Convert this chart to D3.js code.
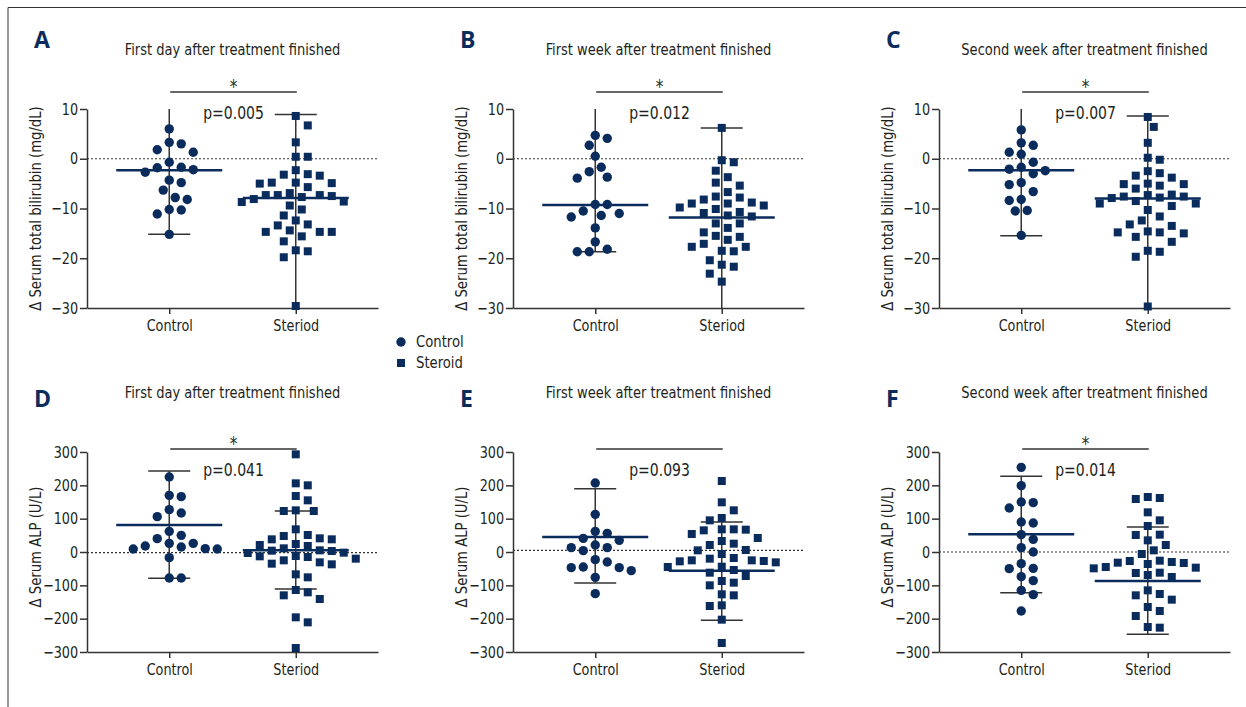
<!DOCTYPE html>
<html>
<head>
<meta charset="utf-8">
<script src="https://cdn.jsdelivr.net/npm/d3@7"></script>
<style>
body { margin: 0; background: #fff; }
svg text { font-family: "DejaVu Sans", sans-serif; font-stretch: condensed; fill: #231f20; }
</style>
</head>
<body>
<svg id="chart" width="1246" height="707"></svg>
<script>
var groups = ['Control', 'Steroid'];
var groupLabels = ['Control', 'Steriod']; // spelled as printed under the axis
var legendLabels = ['Control', 'Steroid'];
var titles = ['First day after treatment finished', 'First week after treatment finished', 'Second week after treatment finished'];
var letters = ['A', 'B', 'C', 'D', 'E', 'F'];
var pValues = ['p=0.005', 'p=0.012', 'p=0.007', 'p=0.041', 'p=0.093', 'p=0.014'];
var stars = ['*', '*', '*', '*', '', '*'];
var biliTicks = [10, 0, -10, -20, -30];
var alpTicks = [300, 200, 100, 0, -100, -200, -300];
var refLines = [0, 0, 0, -2, 5, 0];

// total bilirubin (mg/dL)
var biliDay1Control = [6.0, 3.3, 3.0, 1.8, 1.3, -0.7, -1.7, -2.2, -1.8, -2.7, -4.3, -4.8, -6.3, -7.8, -8.2, -10.3, -10.2, -11.1, -15.2];
var biliDay1Steroid = [8.6, 6.7, 3.3, 0.4, 0.4, -2.3, -3.1, -3.4, -3.2, -4.8, -4.9, -5.0, -4.8, -5.7, -7.3, -7.5, -6.9, -7.7, -7.3, -7.3, -8.1, -8.6, -8.7, -9.4, -10.2, -11.4, -12.4, -13.2, -13.4, -14.4, -14.7, -14.7, -14.7, -15.6, -16.6, -18.4, -18.6, -19.8, -29.6];
var biliDay1Center = [-2.3, -7.9];
var biliDay1Low = [-15.2, -31];
var biliDay1High = [11, 8.9];

var biliWeek1Control = [4.7, 4.1, 2.7, 0.5, -1.7, -2.6, -3.9, -3.7, -9.2, -9.2, -11.0, -10.5, -11.7, -11.4, -13.9, -16.7, -18.2, -18.7, -18.7];
var biliWeek1Steroid = [6.2, -0.3, -0.7, -2.4, -3.7, -4.8, -5.4, -6.7, -7.8, -7.6, -8.2, -9.0, -9.0, -8.8, -9.4, -9.8, -10.1, -10.7, -10.9, -11.6, -11.4, -13.0, -13.0, -13.9, -14.8, -15.5, -15.7, -16.3, -17.1, -17.7, -17.7, -18.6, -18.5, -20.4, -21.3, -21.7, -23.1, -24.7];
var biliWeek1Center = [-9.3, -11.8];
var biliWeek1Low = [-18.7, -31];
var biliWeek1High = [11, 6.2];

var biliWeek2Control = [5.8, 3.2, 2.7, 1.3, 0.9, -0.7, -1.7, -2.4, -2.1, -3.0, -4.8, -5.2, -6.6, -8.2, -8.4, -10.5, -10.4, -15.4];
var biliWeek2Steroid = [8.4, 6.4, 3.2, 0.2, -0.2, -2.5, -2.9, -3.8, -3.4, -5.1, -5.4, -5.1, -5.0, -6.0, -7.3, -7.8, -7.2, -7.9, -7.6, -7.6, -8.5, -9.0, -9.0, -9.5, -10.3, -11.6, -12.4, -13.2, -13.5, -14.8, -14.8, -15.0, -14.6, -15.7, -16.7, -18.5, -18.7, -19.7, -29.7];
var biliWeek2Center = [-2.3, -8.0];
var biliWeek2Low = [-15.5, -31];
var biliWeek2High = [11, 8.6];

// ALP (U/L)
var alpDay1Control = [225, 170, 166, 127, 117, 106, 62, 50, 40, 26, 26, 18, 15, 10, 9, 9, -17, -78, -78];
var alpDay1Steroid = [293, 206, 200, 168, 155, 123, 123, 125, 68, 51, 48, 41, 38, 38, 24, 18, 21, 11, 5, 3, 4, -2, -3, -12, -15, -13, -20, -25, -31, -37, -35, -67, -76, -121, -114, -130, -141, -196, -211, -288];
var alpDay1Center = [81, 5];
var alpDay1Low = [-79, -111];
var alpDay1High = [243, 123];

var alpWeek1Control = [207, 113, 62, 56, 41, 35, 21, 13, 13, 4, -23, -30, -47, -47, -45, -56, -76, -125];
var alpWeek1Steroid = [213, 149, 125, 102, 95, 68, 67, 65, 68, 54, 42, 33, 25, 21, 6, 5, -6, -20, -18, -25, -25, -28, -31, -27, -45, -44, -54, -62, -72, -92, -87, -100, -127, -130, -160, -162, -203, -273];
var alpWeek1Center = [45, -56];
var alpWeek1Low = [-93, -205];
var alpWeek1High = [190, 90];

var alpWeek2Control = [254, 199, 148, 150, 132, 87, 90, 52, 38, 13, 0, -35, -50, -49, -74, -86, -115, -128, -177];
var alpWeek2Steroid = [165, 159, 162, 119, 95, 78, 51, 52, 35, 21, 5, -6, -26, -36, -30, -33, -32, -27, -47, -49, -45, -63, -69, -75, -62, -115, -130, -126, -143, -165, -192, -177, -227, -225];
var alpWeek2Center = [53, -87];
var alpWeek2Low = [-122, -247];
var alpWeek2High = [227, 75];

var NAVY = '#0a2c5c';
var INK = '#333';
var SQUEEZE = 0.89; // the original face is narrower than DejaVu condensed

var panels = [
    { sets: [biliDay1Control, biliDay1Steroid], center: biliDay1Center, low: biliDay1Low, high: biliDay1High },
    { sets: [biliWeek1Control, biliWeek1Steroid], center: biliWeek1Center, low: biliWeek1Low, high: biliWeek1High },
    { sets: [biliWeek2Control, biliWeek2Steroid], center: biliWeek2Center, low: biliWeek2Low, high: biliWeek2High },
    { sets: [alpDay1Control, alpDay1Steroid], center: alpDay1Center, low: alpDay1Low, high: alpDay1High },
    { sets: [alpWeek1Control, alpWeek1Steroid], center: alpWeek1Center, low: alpWeek1Low, high: alpWeek1High },
    { sets: [alpWeek2Control, alpWeek2Steroid], center: alpWeek2Center, low: alpWeek2Low, high: alpWeek2High }
];

// row layout: plot top/bottom, title/letter baselines, significance bar
var rows = [
    { top: 109, bottom: 308, ticks: biliTicks, label: '\u0394 Serum total bilirubin (mg/dL)', title: 55, letter: 48, bar: 92, labelY: 0 },
    { top: 452, bottom: 652, ticks: alpTicks, label: '\u0394 Serum ALP (U/L)', title: 398, letter: 407, bar: 449, labelY: -5 }
];
var colX = [87, 513, 939];
var plotW = 291;

var svg = d3.select('#chart');

// narrow text: place at (x, y) and squeeze horizontally
function label(parent, x, y, str, size, anchor) {
    return parent.append('text')
        .attr('transform', 'translate(' + x + ',' + y + ') scale(' + SQUEEZE + ',1)')
        .attr('text-anchor', anchor || 'middle')
        .attr('font-size', size)
        .text(str);
}

// frame
svg.append('path')
    .attr('d', 'M8,707V7.5H1246')
    .attr('fill', 'none')
    .attr('stroke', INK)
    .attr('stroke-width', 1);

// simple greedy beeswarm: returns a horizontal offset for each value
function swarm(values, yScale, step, rx, ry) {
    var placed = [];
    var offsets = new Array(values.length);
    var order = d3.range(values.length).sort(function (a, b) { return values[b] - values[a]; });
    order.forEach(function (i) {
        var y = yScale(values[i]);
        for (var k = 0; k < 60; k++) {
            var dx = (k % 2 ? 1 : -1) * Math.ceil(k / 2) * step;
            var hit = placed.some(function (p) {
                var a = (p.x - dx) / rx, b = (p.y - y) / ry;
                return a * a + b * b < 1;
            });
            if (!hit) {
                offsets[i] = dx;
                placed.push({ x: dx, y: y });
                break;
            }
        }
    });
    return offsets;
}

panels.forEach(function (p, idx) {
    var row = rows[Math.floor(idx / 3)];
    var col = idx % 3;
    var ext = d3.extent(row.ticks);
    var y = d3.scaleLinear().domain(ext).range([row.bottom, row.top]);
    var x = d3.scalePoint().domain(groups).range([0, plotW]).padding(0.65);
    var g = svg.append('g').attr('transform', 'translate(' + colX[col] + ',0)');

    // zero line
    g.append('line')
        .attr('x1', 0).attr('x2', plotW)
        .attr('y1', y(refLines[idx])).attr('y2', y(refLines[idx]))
        .attr('stroke', INK).attr('stroke-width', 1.2)
        .attr('stroke-dasharray', '2,2');

    // axes
    var yAxis = g.append('g')
        .call(d3.axisLeft(y).tickValues(row.ticks).tickSize(7).tickSizeOuter(0).tickPadding(3));
    var xAxis = g.append('g')
        .attr('transform', 'translate(0,' + row.bottom + ')')
        .call(d3.axisBottom(x).tickSize(6).tickSizeOuter(0).tickPadding(6)
            .tickFormat(function (d, i) { return groupLabels[i]; }));
    [yAxis, xAxis].forEach(function (a) {
        a.selectAll('path, line').attr('stroke', INK).attr('stroke-width', 1.5);
        a.selectAll('text').attr('font-size', 16).attr('fill', '#231f20')
            .style('font-family', '"DejaVu Sans", sans-serif').style('font-stretch', 'condensed')
            .attr('transform', 'scale(' + SQUEEZE + ',1)');
    });

    // y label
    g.append('text')
        .attr('transform', 'translate(-52,' + ((row.top + row.bottom) / 2 + row.labelY) + ') rotate(-90) scale(' + SQUEEZE + ',1)')
        .attr('text-anchor', 'middle')
        .attr('dy', '0.35em')
        .attr('font-size', 16.5)
        .text(row.label);

    // whiskers + caps
    groups.forEach(function (grp, gi) {
        var cx = x(grp);
        var lo = p.low[gi], hi = p.high[gi];
        g.append('line')
            .attr('x1', cx).attr('x2', cx)
            .attr('y1', y(Math.max(lo, ext[0]))).attr('y2', y(Math.min(hi, ext[1])))
            .attr('stroke', INK).attr('stroke-width', 1.5);
        [lo, hi].forEach(function (v) {
            if (v < ext[0] || v > ext[1]) return;
            g.append('line')
                .attr('x1', cx - 21).attr('x2', cx + 21)
                .attr('y1', y(v)).attr('y2', y(v))
                .attr('stroke', INK).attr('stroke-width', 1.5);
        });
    });

    // points
    groups.forEach(function (grp, gi) {
        var vals = p.sets[gi];
        var offs = swarm(vals, y, 6, 12, 11);
        var cx = x(grp);
        var sel = g.append('g').attr('fill', NAVY);
        if (gi === 0) {
            sel.selectAll('circle').data(vals).enter().append('circle')
                .attr('cx', function (d, i) { return cx + offs[i]; })
                .attr('cy', function (d) { return y(d); })
                .attr('r', 4.7);
        } else {
            sel.selectAll('rect').data(vals).enter().append('rect')
                .attr('x', function (d, i) { return cx + offs[i] - 4; })
                .attr('y', function (d) { return y(d) - 4; })
                .attr('width', 8).attr('height', 8);
        }
    });

    // center lines
    groups.forEach(function (grp, gi) {
        var cx = x(grp);
        g.append('line')
            .attr('x1', cx - 53).attr('x2', cx + 53)
            .attr('y1', y(p.center[gi])).attr('y2', y(p.center[gi]))
            .attr('stroke', NAVY).attr('stroke-width', 2.5);
    });

    // significance bar
    var bx1 = x(groups[0]) + 1, bx2 = x(groups[1]) + 1;
    g.append('line')
        .attr('x1', bx1).attr('x2', bx2)
        .attr('y1', row.bar).attr('y2', row.bar)
        .attr('stroke', INK).attr('stroke-width', 1.3);
    if (stars[idx]) {
        label(g, (bx1 + bx2) / 2, row.bar + 1, stars[idx], 19);
    }
    label(g, (bx1 + bx2) / 2, row.bar + 27, pValues[idx], 17.5);

    // title + letter
    label(g, plotW / 2, row.title, titles[col], 16.3);
    g.append('text')
        .attr('x', -53).attr('y', row.letter)
        .attr('font-size', 23)
        .attr('font-weight', 'bold')
        .style('font-family', '"Open Sans", "DejaVu Sans", sans-serif')
        .style('font-stretch', 'normal')
        .style('fill', NAVY)
        .text(letters[idx]);
});

// legend
var legend = svg.append('g').attr('transform', 'translate(401,342)');
legend.append('circle').attr('r', 4.7).attr('fill', NAVY);
legend.append('rect').attr('x', -4).attr('y', 17).attr('width', 8).attr('height', 8).attr('fill', NAVY);
legendLabels.forEach(function (d, i) {
    label(legend, 15, 5 + i * 21, d, 16.5, 'start');
});
</script>
</body>
</html>
